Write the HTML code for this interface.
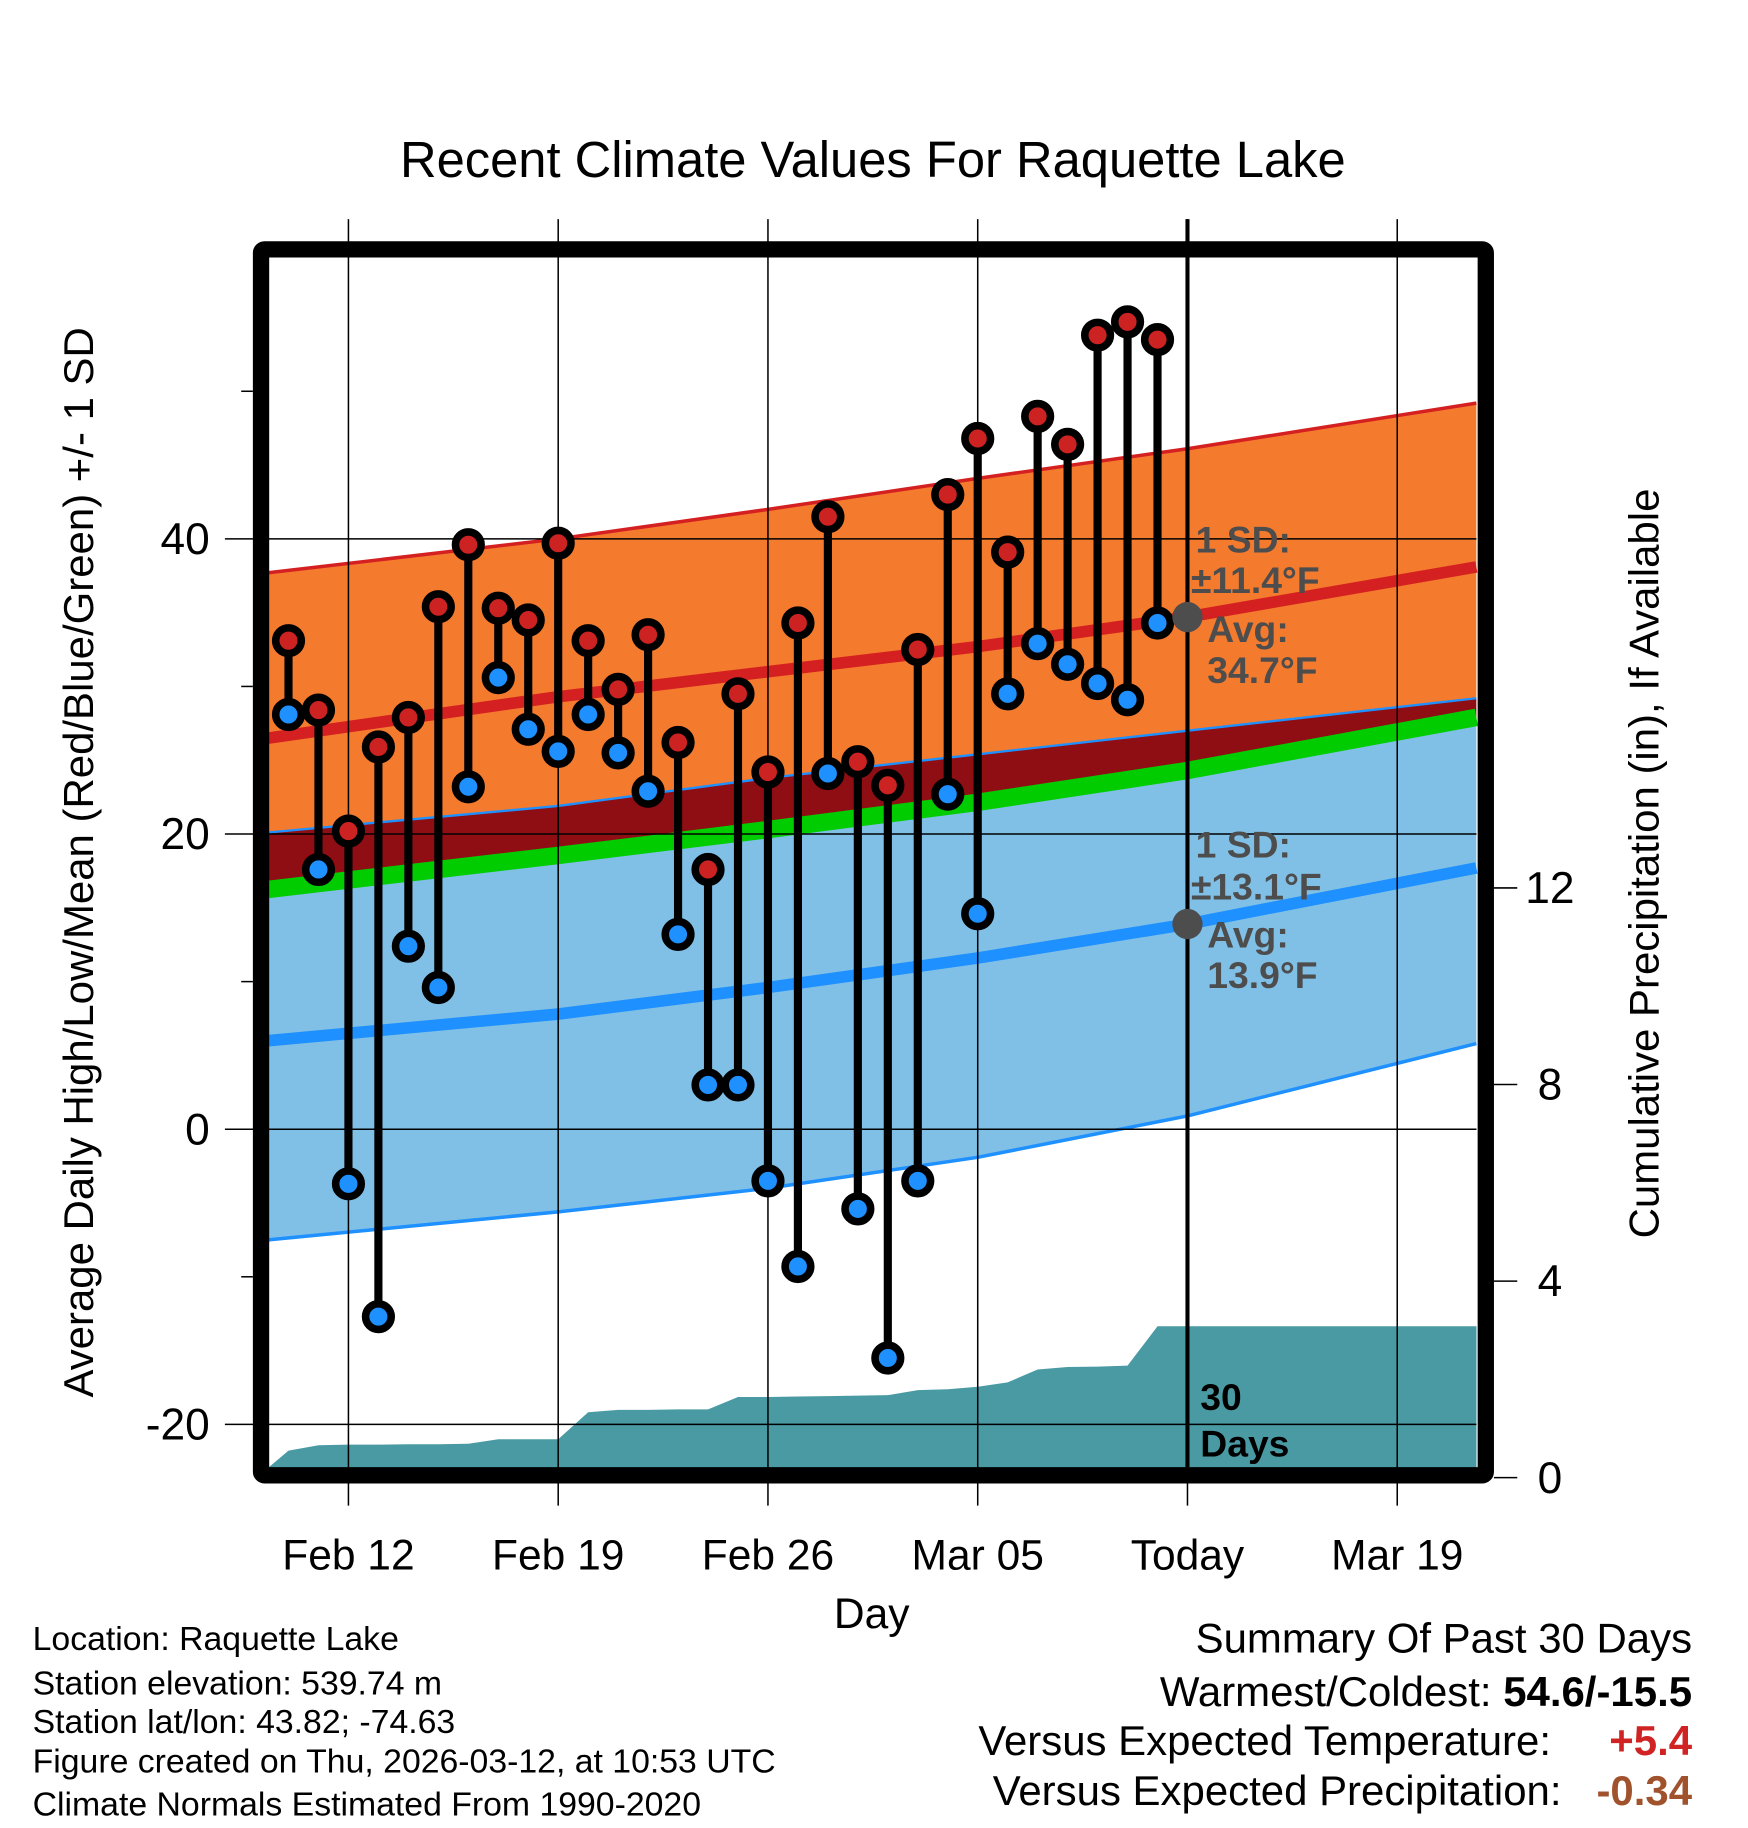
<!DOCTYPE html>
<html><head><meta charset="utf-8"><style>
html,body{margin:0;padding:0;background:#fff;}
svg{display:block;font-family:"Liberation Sans",sans-serif;}
</style></head><body>
<svg id="chart" width="1748" height="1828" viewBox="0 0 1500 1568.65" xmlns="http://www.w3.org/2000/svg"></svg>
<script>
// ---- data ----
const dayLabels = ["Feb 12","Feb 19","Feb 26","Mar 05","Today","Mar 19"];
const dayTicks = [0,7,14,21,28,35];
const obsDays = [-2,-1,0,1,2,3,4,5,6,7,8,9,10,11,12,13,14,15,16,17,18,19,20,21,22,23,24,25,26,27];
const highs = [33.1,28.4,20.2,25.9,27.9,35.4,39.6,35.3,34.5,39.7,33.1,29.8,33.5,26.2,17.6,29.5,24.2,34.3,41.5,24.9,23.3,32.5,43.0,46.8,39.1,48.3,46.4,53.8,54.7,53.5];
const lows = [28.1,17.6,-3.7,-12.7,12.4,9.6,23.2,30.6,27.1,25.6,28.1,25.5,22.9,13.2,3.0,3.0,-3.5,-9.3,24.1,-5.4,-15.5,-3.5,22.7,14.6,29.5,32.9,31.5,30.2,29.1,34.3];
const precip = [0.55,0.66,0.67,0.67,0.68,0.68,0.69,0.78,0.78,0.78,1.33,1.38,1.38,1.39,1.39,1.64,1.64,1.65,1.66,1.67,1.68,1.78,1.80,1.85,1.94,2.20,2.25,2.26,2.28,3.08];
const normDays = [-2.68,7,14,21,28,37.64];
const normHighUpper = [37.7,40.0,42.0,44.1,46.1,49.2];
const normHigh = [26.5,29.3,31.0,32.7,34.7,38.1];
const normLowUpper = [20.1,21.9,23.8,25.4,27.0,29.2];
const normLow = [6.0,7.8,9.6,11.6,13.9,17.7];
const normLowLower = [-7.5,-5.6,-4.0,-1.9,0.9,5.8];
const yTicks = [-20,0,20,40];
const pTicks = [0,4,8,12];

// ---- axes ----
const X0=230,X1=1267,Y0=220,Y1=1259;
const xd = d => 299 + d*180/7;
const yv = v => 969 - v*12.665;
const yp = p => 1268 - p*42.17;
const NS="http://www.w3.org/2000/svg";
const svg=document.getElementById('chart');
function mk(tag,attrs,parent){const e=document.createElementNS(NS,tag);for(const k in attrs)e.setAttribute(k,attrs[k]);(parent||svg).appendChild(e);return e;}
function txt(s,attrs){const e=mk('text',attrs);e.textContent=s;return e;}
const meanArr = normHigh.map((h,i)=>(h+normLow[i])/2);
function pts(arr){return normDays.map((d,i)=>xd(d).toFixed(1)+','+yv(arr[i]).toFixed(1));}
function band(top,bot,fill,name){
  const p=pts(top).concat(pts(bot).reverse()).join(' ');
  const e=mk('polygon',{points:p,fill:fill});
  
  
}
function line(arr,stroke,w,name){
  const e=mk('polyline',{points:pts(arr).join(' '),fill:'none',stroke:stroke,'stroke-width':w});
  
  
}

// title
let t=txt('Recent Climate Values For Raquette Lake',{x:749,y:152,'font-size':43.5,'text-anchor':'middle'});



// bands
band(normHighUpper,normLowUpper,'#f47a2e','high-sd-band');
band(normLowUpper,meanArr,'#8e0e14','overlap-band');
band(meanArr,normLowLower,'#80c0e6','low-sd-band');
line(normHighUpper,'#d42020',3,'high-upper-line');
line(normLowUpper,'#1e90ff',2,'low-upper-line');
line(meanArr,'#00cc00',15,'mean-line');
line(normLowLower,'#1e90ff',3,'low-lower-line');
line(normHigh,'#d42020',10,'avg-high-line');
line(normLow,'#1e90ff',10,'avg-low-line');

// precip area
let pp=[[X0,Y1+10]];
pp.push([X0,yp(0.2)]);
obsDays.forEach((d,i)=>pp.push([xd(d),yp(precip[i])]));
pp.push([X1,yp(precip[precip.length-1])]);
pp.push([X1,Y1+10]);
let pe=mk('polygon',{points:pp.map(q=>q[0].toFixed(1)+','+q[1].toFixed(1)).join(' '),fill:'#4a9aa4'});



// gridlines
dayTicks.forEach((d,i)=>{
  const e=mk('line',{x1:xd(d),x2:xd(d),y1:188,y2:1292,stroke:'#000','stroke-width':1.3});
  
  
  const l=txt(dayLabels[i],{x:xd(d),y:1347,'font-size':36.5,'text-anchor':'middle'});
  
  
});
yTicks.forEach(v=>{
  const e=mk('line',{x1:193,x2:X1,y1:yv(v),y2:yv(v),stroke:'#000','stroke-width':1.3});
  
  
  const l=txt(String(v),{x:180,y:yv(v)+13,'font-size':38,'text-anchor':'end'});
  
  
});
[-10,10,30,50].forEach(v=>{
  const e=mk('line',{x1:207,x2:217,y1:yv(v),y2:yv(v),stroke:'#000','stroke-width':1.3});
  
  
});
pTicks.forEach(p=>{
  const e=mk('line',{x1:1282,x2:1302,y1:yp(p),y2:yp(p),stroke:'#000','stroke-width':1.3});
  
  
  const l=txt(String(p),{x:1330,y:yp(p)+13,'font-size':38,'text-anchor':'middle'});
  
  
});

// today line
let tl=mk('line',{x1:xd(28),x2:xd(28),y1:188,y2:Y1,stroke:'#000','stroke-width':3.5});



// stems and markers
obsDays.forEach((d,i)=>{
  const x=xd(d);
  const s=mk('line',{x1:x,x2:x,y1:yv(highs[i]),y2:yv(lows[i]),stroke:'#000','stroke-width':7});
  
  
});
obsDays.forEach((d,i)=>{
  const x=xd(d);
  const h=mk('circle',{cx:x,cy:yv(highs[i]),r:11,fill:'#cc2222',stroke:'#000','stroke-width':6.5});
  
  
  const l=mk('circle',{cx:x,cy:yv(lows[i]),r:11,fill:'#1e90ff',stroke:'#000','stroke-width':6.5});
  
  
});

// annotations
const todayHigh=normHigh[4], todayLow=normLow[4];
let d1=mk('circle',{cx:xd(28),cy:yv(todayHigh),r:13,fill:'#4d4d4d'});


let d2=mk('circle',{cx:xd(28),cy:yv(todayLow),r:13,fill:'#4d4d4d'});


function ann(s,x,y,name){const e=txt(s,{x:x,y:y,'font-size':32,'font-weight':'bold',fill:'#4d4d4d'});}
ann('1 SD:',1026,474,'high-sd-label');
ann('±11.4°F',1022,509,'high-sd-value');
ann('Avg:',1036,551,'high-avg-label');
ann('34.7°F',1036,586,'high-avg-value');
ann('1 SD:',1026,736,'low-sd-label');
ann('±13.1°F',1022,772,'low-sd-value');
ann('Avg:',1036,813,'low-avg-label');
ann('13.9°F',1036,848,'low-avg-value');
let dd=txt('30',{x:1030,y:1210,'font-size':32,'font-weight':'bold'});


let dd2=txt('Days',{x:1030,y:1250,'font-size':32,'font-weight':'bold'});



// frame
let fr=mk('rect',{x:224,y:214,width:1051,height:1052,fill:'none',stroke:'#000','stroke-width':14,rx:3});



// axis titles
let yl=txt('Average Daily High/Low/Mean (Red/Blue/Green) +/- 1 SD',{x:0,y:0,'font-size':36,'text-anchor':'middle',transform:'translate(80,740) rotate(-90)'});


let yr=txt('Cumulative Precipitation (in), If Available',{x:0,y:0,'font-size':36,'text-anchor':'middle',transform:'translate(1423,741) rotate(-90)'});


let xl=txt('Day',{x:748,y:1397,'font-size':36.5,'text-anchor':'middle'});



// footer info
const info=['Location: Raquette Lake','Station elevation: 539.74 m','Station lat/lon: 43.82; -74.63','Figure created on Thu, 2026-03-12, at 10:53 UTC','Climate Normals Estimated From 1990-2020'];
const infoY=[1416,1454,1487,1521,1558];
info.forEach((s,i)=>{const e=txt(s,{x:28,y:infoY[i],'font-size':29});
  
  });

function sum(parts,y,name){
  const e=mk('text',{x:1452,y:y,'font-size':36,'text-anchor':'end'});
  
  
  parts.forEach(p=>{const ts=mk('tspan',p.a||{},e);ts.textContent=p.s;});
}
sum([{s:'Summary Of Past 30 Days'}],1418,'summary-title');
sum([{s:'Warmest/Coldest: '},{s:'54.6/-15.5',a:{'font-weight':'bold'}}],1464,'warmest-coldest');
sum([{s:'Versus Expected Temperature:     '},{s:'+5.4',a:{'font-weight':'bold',fill:'#d02424'}}],1506,'temp-anomaly');
sum([{s:'Versus Expected Precipitation:   '},{s:'-0.34',a:{'font-weight':'bold',fill:'#a0522d'}}],1549,'precip-anomaly');
document.querySelectorAll('text').forEach(e=>e.style.whiteSpace='pre');
</script>
</body></html>
